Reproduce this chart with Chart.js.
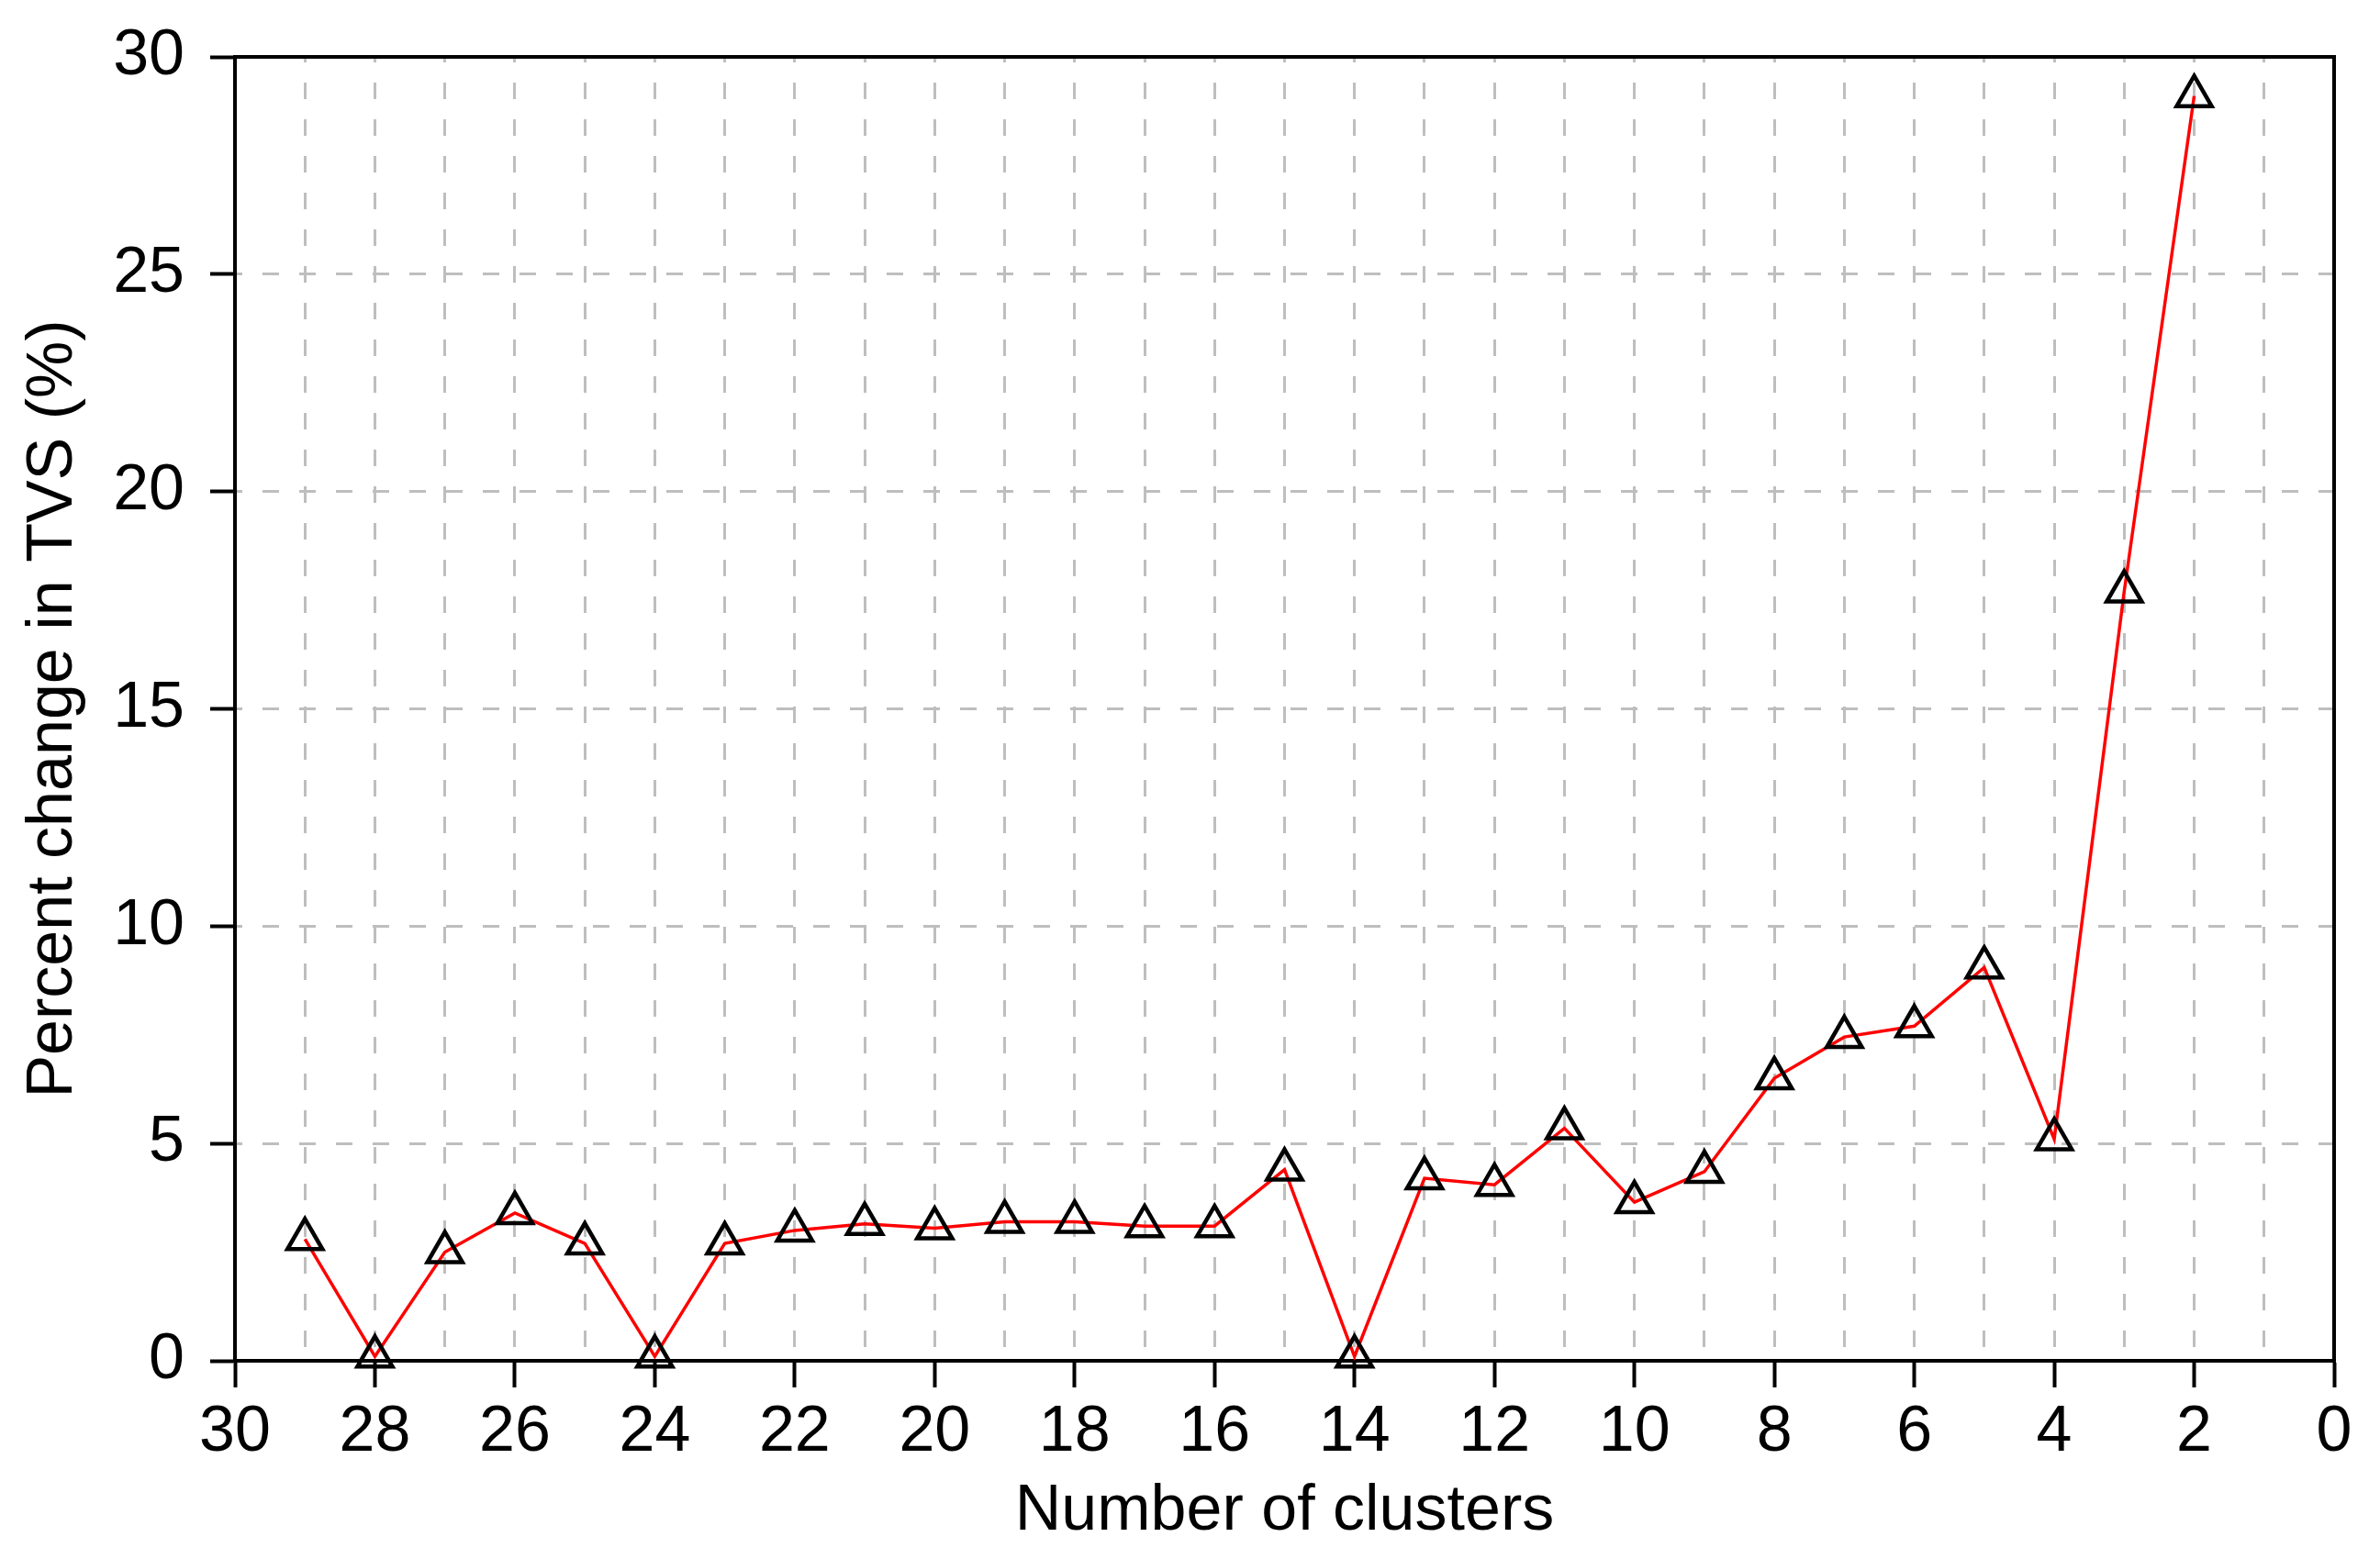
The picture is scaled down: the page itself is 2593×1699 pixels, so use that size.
<!DOCTYPE html>
<html>
<head>
<meta charset="utf-8">
<script src="https://cdn.jsdelivr.net/npm/chart.js@4/dist/chart.umd.min.js"></script>
<style>
  body { margin: 0; background: #fff; }
</style>
</head>
<body>
<canvas id="tvs" width="2593" height="1699"></canvas>
<script>
const clusters = [29, 28, 27, 26, 25, 24, 23, 22, 21, 20, 19, 18, 17, 16, 15,
                  14, 13, 12, 11, 10, 9, 8, 7, 6, 5, 4, 3, 2];
const pctChange = [2.8, 0.1, 2.5, 3.4, 2.7, 0.1, 2.7, 3.0, 3.15, 3.05, 3.2, 3.2, 3.1, 3.1, 4.4,
                   0.1, 4.2, 4.05, 5.35, 3.65, 4.35, 6.5, 7.45, 7.7, 9.05, 5.1, 17.7, 29.1];
const yTicks = [0, 5, 10, 15, 20, 25, 30];

const gridGray = 'rgb(190,190,190)';
const font = { family: 'Liberation Sans', size: 70 };

// top + right edges of the frame
const frame = {
  id: 'frame',
  afterDraw(chart) {
    const { ctx, chartArea: a } = chart;
    ctx.save();
    ctx.setLineDash([]);
    ctx.strokeStyle = '#000';
    ctx.lineWidth = 4;
    ctx.beginPath();
    ctx.moveTo(a.left, a.top);
    ctx.lineTo(a.right, a.top);
    ctx.lineTo(a.right, a.bottom);
    ctx.stroke();
    ctx.restore();
  }
};

const ctx = document.querySelector('#tvs').getContext('2d');
new Chart(ctx, {
  type: 'line',
  data: {
    datasets: [{
      data: clusters.map((c, i) => ({ x: c, y: pctChange[i] })),
      borderColor: '#ff0000',
      borderWidth: 3.5,
      tension: 0,
      pointStyle: 'triangle',
      pointRadius: 22,
      pointHoverRadius: 22,
      pointBorderColor: '#000',
      pointBorderWidth: 4.5,
      pointBackgroundColor: 'rgba(0,0,0,0)',
      clip: false
    }]
  },
  options: {
    responsive: false,
    animation: false,
    events: [],
    layout: { padding: { top: 62, right: 50, left: 0, bottom: 0 } },
    plugins: { legend: { display: false }, tooltip: { enabled: false } },
    scales: {
      x: {
        type: 'linear',
        reverse: true,
        min: 0,
        max: 30,
        afterFit: (s) => { s.height = 216; },
        ticks: {
          stepSize: 1,
          autoSkip: false,
          maxRotation: 0,
          padding: 8,
          color: '#000',
          font: font,
          callback: (v) => (v % 2 === 0 ? String(v) : '')
        },
        grid: {
          color: gridGray,
          lineWidth: 3,
          tickLength: 29,
          tickWidth: 4,
          tickBorderDash: [],
          tickColor: (c) => (c.tick && c.tick.value % 2 === 0 ? '#000' : 'rgba(0,0,0,0)')
        },
        border: { color: '#000', width: 4, dash: [18, 22], dashOffset: 12 },
        title: {
          display: true,
          text: 'Number of clusters',
          color: '#000',
          font: font,
          padding: { top: 0, bottom: 9 }
        }
      },
      y: {
        min: 0,
        max: 30,
        afterFit: (s) => {
          s.width = 256;
          s.paddingTop = 40;
          s.paddingBottom = 40;
        },
        afterBuildTicks: (s) => { s.ticks = yTicks.map(v => ({ value: v })); },
        ticks: {
          padding: 28,
          color: '#000',
          font: font
        },
        grid: {
          color: gridGray,
          lineWidth: 3,
          tickLength: 27,
          tickWidth: 4,
          tickBorderDash: [],
          tickColor: '#000'
        },
        border: { color: '#000', width: 4, dash: [18, 22], dashOffset: 12 },
        title: {
          display: true,
          text: 'Percent change in TVS (%)',
          color: '#000',
          font: font,
          padding: { top: 17, bottom: 0 }
        }
      }
    }
  },
  plugins: [frame]
});
</script>
</body>
</html>
